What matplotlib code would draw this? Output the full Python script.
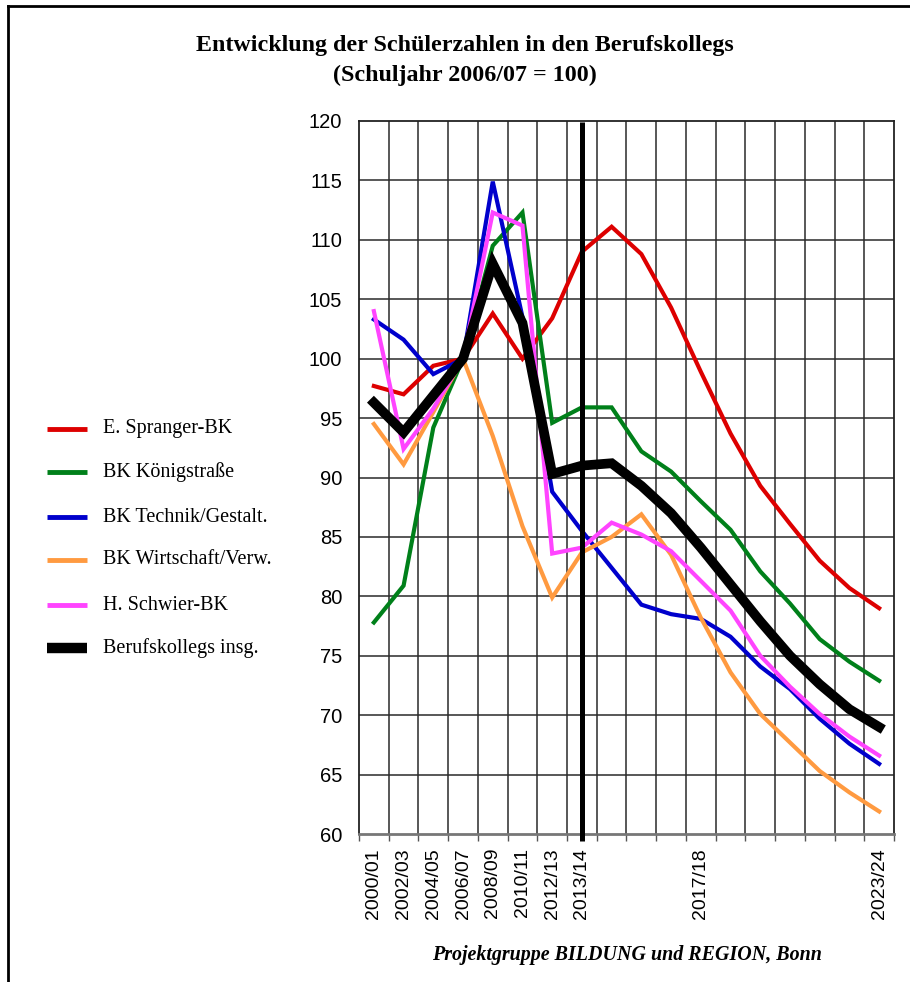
import matplotlib
matplotlib.use("Agg")
import matplotlib.pyplot as plt
from matplotlib.lines import Line2D

# School years on the category axis
years = ["2000/01", "2002/03", "2004/05", "2006/07", "2008/09", "2010/11",
         "2012/13", "2013/14", "2014/15", "2015/16", "2016/17", "2017/18",
         "2018/19", "2019/20", "2020/21", "2021/22", "2022/23", "2023/24"]
shown_labels = ["2000/01", "2002/03", "2004/05", "2006/07", "2008/09",
                "2010/11", "2012/13", "2013/14", "2017/18", "2023/24"]
marker_year = "2013/14"

# Index values (school year 2006/07 = 100)
spranger = [97.7, 97.0, 99.4, 100.0, 103.8, 100.0, 103.4, 109.0, 111.1, 108.8,
            104.3, 98.9, 93.7, 89.3, 86.1, 83.0, 80.7, 79.0]
koenigstr = [77.8, 80.9, 94.2, 100.0, 109.5, 112.3, 94.6, 95.9, 95.9, 92.2,
             90.5, 88.0, 85.6, 82.1, 79.4, 76.4, 74.5, 72.9]
technik = [103.3, 101.6, 98.7, 100.0, 114.9, 103.5, 88.8, 85.5, 82.4, 79.3,
           78.5, 78.1, 76.6, 74.1, 72.2, 69.7, 67.6, 65.9]
wirtschaft = [94.5, 91.1, 95.5, 100.0, 93.5, 85.9, 79.9, 83.7, 85.0, 86.9,
              83.5, 78.2, 73.6, 70.1, 67.7, 65.3, 63.5, 61.9]
schwier = [104.0, 92.4, 95.8, 100.0, 112.3, 111.2, 83.6, 84.1, 86.2, 85.2,
           83.8, 81.3, 78.8, 75.0, 72.4, 70.1, 68.2, 66.6]
insgesamt = [96.3, 93.8, 96.9, 100.0, 108.0, 103.0, 90.3, 91.0, 91.2, 89.3,
             87.0, 84.1, 81.0, 77.9, 75.0, 72.6, 70.5, 69.0]

series_names = ["E. Spranger-BK", "BK Königstraße", "BK Technik/Gestalt.",
                "BK Wirtschaft/Verw.", "H. Schwier-BK", "Berufskollegs insg."]
series_values = [spranger, koenigstr, technik, wirtschaft, schwier, insgesamt]
series_colors = ["#dd0000", "#00801a", "#0000cc", "#ff9a40", "#ff44ff", "#000000"]
series_widths = [3.0, 3.0, 3.0, 3.0, 3.0, 7.0]

serif = ["Liberation Serif", "DejaVu Serif"]
sans = ["Liberation Sans", "DejaVu Sans"]

W, H = 910, 982
fig = plt.figure(figsize=(W / 100, H / 100), dpi=100)

def fx(px):
    return px / W

def fy(py):
    return 1 - py / H

ax = fig.add_axes([fx(359), fy(834), fx(894) - fx(359), fy(121) - fy(834)])

x = list(range(len(years)))
for vals, col, lw in zip(series_values, series_colors, series_widths):
    ax.plot(x, vals, color=col, lw=lw, solid_joinstyle="miter", zorder=3)

ax.set_xlim(-0.5, len(years) - 0.5)
ax.set_ylim(60, 120)
ax.set_yticks(range(60, 121, 5))

# category boundaries as vertical grid lines
bounds = [i + 0.5 for i in range(len(years) - 1)]
for b in bounds:
    ax.axvline(b, color="#2a2a2a", lw=1.1, zorder=1)
for v in range(65, 120, 5):
    ax.axhline(v, color="#2a2a2a", lw=1.1, zorder=1)
ax.set_xticks([i - 0.5 for i in range(len(years) + 1)], minor=True)
ax.tick_params(axis="x", which="minor", length=5, width=1, color="#555555", direction="out")

ax.set_xticks([years.index(s) for s in shown_labels])
ax.set_xticklabels(shown_labels, rotation=90, fontsize=14, family=sans)
ax.tick_params(axis="x", which="major", length=0, pad=10)
ax.tick_params(axis="y", length=0, pad=12, labelsize=14.5)
for t in ax.get_yticklabels():
    t.set_family(sans)

# highlighted school year
mx = years.index(marker_year)
ax.plot([mx, mx], [119.9, 59.4], color="black", lw=3.6, zorder=4, clip_on=False,
        solid_capstyle="butt")

for side in ["left", "top", "right"]:
    ax.spines[side].set_color("#222222")
    ax.spines[side].set_linewidth(1.3)
ax.spines["bottom"].set_color("#777777")
ax.spines["bottom"].set_linewidth(2.0)

# title
fig.text(fx(465), fy(45), "Entwicklung der Schülerzahlen in den Berufskollegs",
         ha="center", va="center", fontsize=17.3, fontweight="bold", family=serif)
fig.text(fx(465), fy(75), "(Schuljahr 2006/07 = 100)",
         ha="center", va="center", fontsize=17.3, fontweight="bold", family=serif)

# legend at the left
leg_y = [429, 472, 517, 560, 605, 648]
for name, col, lw, yy in zip(series_names, series_colors, series_widths, leg_y):
    fig.add_artist(Line2D([fx(47), fx(87)], [fy(yy), fy(yy)], color=col,
                          lw=3.5 if lw < 5 else 7.5, solid_capstyle="butt",
                          transform=fig.transFigure))
    fig.text(fx(103), fy(yy), name, ha="left", va="center", fontsize=14.5,
             family=serif)

# source note
fig.text(fx(627), fy(955), "Projektgruppe BILDUNG und REGION, Bonn",
         ha="center", va="center", fontsize=14.4, fontweight="bold",
         fontstyle="italic", family=serif)

# frame along top and left edge
fig.add_artist(Line2D([fx(8), 1.0], [fy(6), fy(6)], color="black", lw=2.0,
                      transform=fig.transFigure))
fig.add_artist(Line2D([fx(8), fx(8)], [fy(6), 0.0], color="black", lw=2.0,
                      transform=fig.transFigure))

fig.savefig("out.png", dpi=100, facecolor="white")
